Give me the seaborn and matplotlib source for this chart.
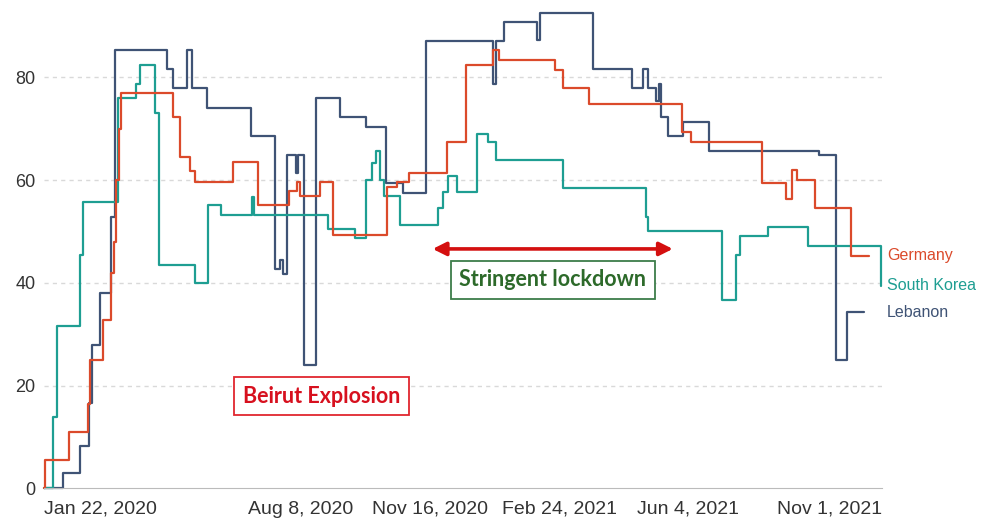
import pandas as pd
import numpy as np
import matplotlib.pyplot as plt
import matplotlib.transforms as mtransforms
import seaborn as sns

# stringency index, change points (step series)
germany_dates = ["2020-01-22", "2020-01-23", "2020-02-10", "2020-02-25", "2020-02-27", "2020-03-08",
                 "2020-03-14", "2020-03-16", "2020-03-18", "2020-03-20", "2020-03-22", "2020-05-01",
                 "2020-05-06", "2020-05-14", "2020-05-18", "2020-06-16", "2020-07-06", "2020-07-30",
                 "2020-08-05", "2020-08-07", "2020-08-23", "2020-09-02", "2020-10-14", "2020-10-21",
                 "2020-10-31", "2020-11-29", "2020-12-14", "2021-01-04", "2021-01-08", "2021-02-21",
                 "2021-02-27", "2021-03-19", "2021-05-30", "2021-06-06", "2021-07-31", "2021-08-19",
                 "2021-08-23", "2021-08-27", "2021-09-10", "2021-10-08", "2021-10-22"]
germany_values = [0, 5.5, 11.0, 16.5, 25.0, 32.8,
                  41.9, 48.0, 60.0, 70.0, 76.9, 72.3,
                  64.5, 61.8, 59.7, 63.5, 55.1, 57.9,
                  59.7, 56.9, 59.7, 49.4, 58.7, 59.7,
                  61.3, 67.5, 82.4, 85.3, 83.4, 81.4,
                  77.9, 74.9, 69.4, 67.5, 59.4, 56.4,
                  62.0, 60.1, 54.6, 45.3, 45.3]

korea_dates = ["2020-01-22", "2020-01-29", "2020-02-01", "2020-02-19", "2020-02-21", "2020-03-19",
               "2020-04-02", "2020-04-05", "2020-04-17", "2020-04-20", "2020-05-18", "2020-05-28",
               "2020-06-07", "2020-07-01", "2020-07-03", "2020-08-29", "2020-09-19", "2020-09-27",
               "2020-10-02", "2020-10-05", "2020-10-08", "2020-10-11", "2020-10-24", "2020-11-22",
               "2020-11-26", "2020-11-30", "2020-12-07", "2020-12-22", "2020-12-31", "2021-01-06",
               "2021-02-27", "2021-05-02", "2021-05-04", "2021-06-30", "2021-07-11", "2021-07-14",
               "2021-08-05", "2021-09-05", "2021-10-31"]
korea_values = [0, 13.9, 31.5, 45.4, 55.8, 75.9,
                78.8, 82.5, 73.0, 43.5, 39.9, 55.1,
                53.2, 56.8, 53.2, 50.4, 48.7, 60.0,
                63.3, 65.7, 60.0, 56.9, 51.3, 54.5,
                57.7, 60.7, 57.7, 69.0, 67.5, 63.9,
                58.4, 52.9, 50.1, 36.6, 45.4, 49.1,
                50.9, 47.2, 39.4]

lebanon_dates = ["2020-01-22", "2020-02-06", "2020-02-19", "2020-02-26", "2020-02-28", "2020-03-05",
                 "2020-03-14", "2020-03-17", "2020-04-26", "2020-05-01", "2020-05-12", "2020-05-16",
                 "2020-05-27", "2020-06-30", "2020-07-19", "2020-07-23", "2020-07-25", "2020-07-28",
                 "2020-08-04", "2020-08-06", "2020-08-10", "2020-08-20", "2020-09-07", "2020-09-27",
                 "2020-10-13", "2020-10-26", "2020-11-13", "2021-01-04", "2021-01-06", "2021-01-12",
                 "2021-02-07", "2021-02-09", "2021-03-22", "2021-04-21", "2021-04-30", "2021-05-04",
                 "2021-05-10", "2021-05-12", "2021-05-14", "2021-05-19", "2021-05-31", "2021-06-20",
                 "2021-09-13", "2021-09-26", "2021-10-05", "2021-10-18"]
lebanon_values = [0, 2.9, 8.3, 16.6, 27.8, 38.0,
                  52.9, 85.3, 81.6, 77.9, 85.3, 77.9,
                  74.1, 68.6, 42.6, 44.5, 41.8, 64.9,
                  61.3, 64.9, 24.0, 76.0, 72.2, 70.4,
                  59.5, 57.5, 87.1, 78.8, 87.1, 90.7,
                  87.3, 92.6, 81.6, 77.9, 81.6, 77.9,
                  75.3, 78.8, 72.3, 68.6, 71.4, 65.7,
                  64.9, 25.0, 34.3, 34.3]

countries = ["Germany", "South Korea", "Lebanon"]
colors = {"Germany": "#DB4A2B", "South Korea": "#1E9E92", "Lebanon": "#3F5375"}

tick_dates = ["2020-01-22", "2020-08-08", "2020-11-16", "2021-02-24", "2021-06-04", "2021-11-01"]
tick_labels = ["Jan 22, 2020", "Aug 8, 2020", "Nov 16, 2020", "Feb 24, 2021", "Jun 4, 2021", "Nov 1, 2021"]

frames = []
for name, d, v in [("Germany", germany_dates, germany_values),
                   ("South Korea", korea_dates, korea_values),
                   ("Lebanon", lebanon_dates, lebanon_values)]:
    frames.append(pd.DataFrame({"date": pd.to_datetime(d), "value": v, "country": name}))
df = pd.concat(frames, ignore_index=True)

sns.set_style("white")
plt.rcParams["font.family"] = ["Liberation Sans", "DejaVu Sans"]

fig = plt.figure(figsize=(9.92, 5.2), dpi=100)
ax = fig.add_axes([44 / 992, 1 - 488.3 / 520, (882 - 44) / 992, (488.3 - 8) / 520])

sns.lineplot(data=df, x="date", y="value", hue="country", hue_order=countries[::-1],
             palette=colors, drawstyle="steps-post", linewidth=1.6, estimator=None,
             legend=False, ax=ax, clip_on=False)

ax.set_xlim(pd.Timestamp(tick_dates[0]), pd.Timestamp(tick_dates[-1]))
ax.set_ylim(0, 93.5)

ax.set_yticks([0, 20, 40, 60, 80])
for yv in [20, 40, 60, 80]:
    ax.axhline(yv, color="#d9d9d9", lw=1, ls=(0, (3, 3)), zorder=0)
ax.tick_params(axis="y", length=0, labelsize=13, labelcolor="#333333", pad=6)

ax.set_xticks(pd.to_datetime(tick_dates))
ax.set_xticklabels(tick_labels)
ax.tick_params(axis="x", length=5, color="#bbbbbb", labelsize=14, labelcolor="#333333", pad=4)
labels = ax.get_xticklabels()
labels[0].set_ha("left")
labels[-1].set_ha("right")

for s in ["top", "right", "left"]:
    ax.spines[s].set_visible(False)
ax.spines["bottom"].set_color("#bbbbbb")
ax.set_xlabel("")
ax.set_ylabel("")

# end-of-line labels
trans = mtransforms.blended_transform_factory(ax.transAxes, ax.transData)
last_vals = {"Germany": germany_values[-1], "South Korea": korea_values[-1], "Lebanon": lebanon_values[-1]}
for name in countries:
    ax.text(1.006, last_vals[name], name, transform=trans, color=colors[name],
            fontsize=11.5, va="center", ha="left")

# annotations
ax.annotate("", xy=(pd.Timestamp("2021-05-23"), 46.6), xytext=(pd.Timestamp("2020-11-18"), 46.6),
            arrowprops=dict(arrowstyle="<|-|>", color="#D40F0F", lw=2.6, mutation_scale=20,
                            shrinkA=0, shrinkB=0))
ax.text(pd.Timestamp("2021-02-19"), 40.6, "Stringent lockdown", color="#2D6A2A", fontsize=15.5,
        fontweight="bold", family=["Lato", "DejaVu Sans"], ha="center", va="center",
        bbox=dict(boxstyle="square,pad=0.4", fc="white", ec="#3D7D4A", lw=1.3))
ax.text(pd.Timestamp("2020-08-24"), 17.9, "Beirut Explosion", color="#D7101E", fontsize=15.5,
        fontweight="bold", family=["Lato", "DejaVu Sans"], ha="center", va="center",
        bbox=dict(boxstyle="square,pad=0.4", fc="white", ec="#E0262F", lw=1.3))

fig.savefig("out.png", dpi=100, facecolor="white")
